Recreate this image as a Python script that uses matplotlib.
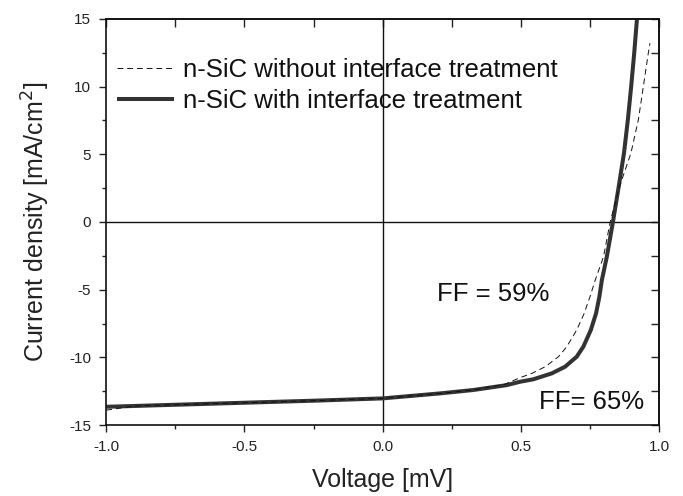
import matplotlib
matplotlib.use("Agg")
import matplotlib.pyplot as plt
import numpy as np

plt.rcParams['font.family'] = ['Liberation Sans', 'DejaVu Sans']
plt.rcParams['axes.unicode_minus'] = False

# Data (Voltage [mV], Current density [mA/cm^2])
v_with = [-1.0, -0.75, -0.5, -0.25, 0.0, 0.208, 0.328, 0.449, 0.497, 0.545, 0.612,
          0.660, 0.702, 0.726, 0.753, 0.772, 0.784, 0.793, 0.811, 0.833, 0.854,
          0.873, 0.887, 0.899, 0.910, 0.920]
j_with = [-13.65, -13.5, -13.35, -13.2, -13.03, -12.66, -12.41, -12.05, -11.8, -11.62,
          -11.18, -10.69, -9.95, -9.21, -7.98, -6.75, -5.52, -4.29, -2.56, 0.0, 2.62,
          5.08, 7.54, 10.0, 12.47, 15.0]

v_without = [-1.0, -0.9, -0.75, -0.5, -0.25, 0.0, 0.208, 0.328, 0.44, 0.497, 0.540,
             0.588, 0.636, 0.666, 0.702, 0.729, 0.750, 0.769, 0.799, 0.823, 0.857,
             0.898, 0.925, 0.943, 0.961, 0.967]
j_without = [-13.9, -13.6, -13.5, -13.35, -13.2, -13.03, -12.66, -12.41, -12.0, -11.5,
             -11.18, -10.69, -9.95, -9.21, -7.98, -6.75, -5.52, -4.29, -2.56, 0.0, 2.62,
             5.08, 7.54, 10.0, 12.47, 13.2]

label_without = "n-SiC without interface treatment"
label_with = "n-SiC with interface treatment"
ff_labels = ["FF = 59%", "FF= 65%"]
x_ticks = [-1.0, -0.5, 0.0, 0.5, 1.0]
y_ticks = [-15, -10, -5, 0, 5, 10, 15]
x_minor = np.arange(-1.0, 1.01, 0.25)
y_minor = np.arange(-15, 15.1, 2.5)

fig = plt.figure(figsize=(6.83, 4.96), dpi=100)
ax = fig.add_axes([0.1555, 0.143, 0.8095, 0.819])

ax.axhline(0, color='#111111', lw=1.0, zorder=1)
ax.axvline(0, color='#111111', lw=1.0, zorder=1)

ax.plot(v_without, j_without, color='#111111', lw=0.7, dashes=(6, 4),
        label=label_without, zorder=3)
ax.plot(v_with, j_with, color='#333333', lw=2.9, label=label_with, zorder=2,
        solid_capstyle='butt', solid_joinstyle='round')

ax.set_xlim(-1.0, 1.0)
ax.set_ylim(-15, 15)
ax.set_xticks(x_ticks)
ax.set_xticklabels([f"{t:.1f}" for t in x_ticks])
ax.set_yticks(y_ticks)
ax.set_xticks(x_minor, minor=True)
ax.set_yticks(y_minor, minor=True)
ax.tick_params(which='both', direction='out', colors='#222222', labelsize=11,
               pad=6, width=1.0)
ax.tick_params(which='major', length=5)
ax.tick_params(which='minor', length=3)

# mirrored inward ticks on top and right
secx = ax.secondary_xaxis('top')
secx.set_xticks(x_ticks)
secx.set_xticks(x_minor, minor=True)
secx.tick_params(axis='x', which='both', direction='in', length=6, width=1.0,
                 labeltop=False, colors='#222222')
secy = ax.secondary_yaxis('right')
secy.set_yticks(y_ticks)
secy.set_yticks(y_minor, minor=True)
secy.tick_params(axis='y', which='both', direction='in', length=6, width=1.0,
                 labelright=False, colors='#222222')

for s in list(ax.spines.values()) + list(secx.spines.values()) + list(secy.spines.values()):
    s.set_linewidth(1.2)
    s.set_color('#111111')

ax.set_xlabel("Voltage [mV]", fontsize=18, color='#222222', labelpad=10)
ax.set_ylabel("Current density [mA/cm$^2$]", fontsize=18, color='#222222', labelpad=12)

ax.text(0.40, -5.3, ff_labels[0], fontsize=18.5, color='#111111', ha='center', va='center')
ax.text(0.756, -13.28, ff_labels[1], fontsize=18.5, color='#111111', ha='center', va='center')

leg = ax.legend(loc='upper left', bbox_to_anchor=(0.02, 0.903), frameon=False,
                fontsize=18.5, handlelength=2.2, handletextpad=0.35,
                borderpad=0, borderaxespad=0, labelspacing=0.28)
for t in leg.get_texts():
    t.set_color('#111111')

fig.savefig("out.png", dpi=100)
